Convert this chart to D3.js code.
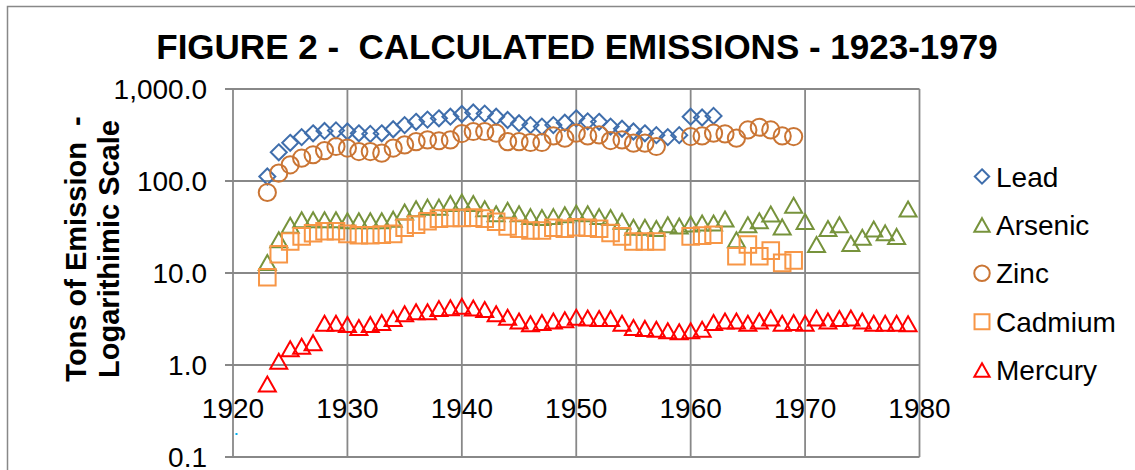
<!DOCTYPE html>
<html>
<head>
<meta charset="utf-8">
<script src="https://cdn.jsdelivr.net/npm/d3@7"></script>
<style>
  body { margin: 0; background: #fff; }
  svg text { font-family: Arial, "Liberation Sans", sans-serif; }
</style>
</head>
<body>
<div id="chart"></div>
<script>
// chart data
let years = [1923,1924,1925,1926,1927,1928,1929,1930,1931,1932,1933,1934,1935,1936,1937,1938,1939,1940,
    1941,1942,1943,1944,1945,1946,1947,1948,1949,1950,1951,1952,1953,1954,1955,1956,1957,1958,1959,
    1960,1961,1962,1963,1964,1965,1966,1967,1968,1969,1970,1971,1972,1973,1974,1975,1976,1977,1978,1979];

let lead = [112,205,260,300,330,350,355,345,330,325,330,365,405,440,465,480,500,535,
    555,540,500,460,425,405,390,405,430,480,445,440,390,370,345,330,315,300,315,
    500,490,510,null,null,null,null,null,null,null,
    null,null,null,null,null,null,null,null,null,null];

let arsenic = [13,23,33,38,38,38,38,37,37,37,37,38.5,46,50,52,52,57,59,
    57,50,44,48,44,41,40,41,43,45,44,41,40,36.5,31.5,31.5,30.5,33.5,32.5,
    34,35,35,38.7,23,33.5,37,43.7,31.7,54.6,
    36.3,20.4,30.5,33.5,20.9,24.4,30,27.3,25,49.5];

let zinc = [75,122,150,177,193,214,237,228,209,209,201,228,247,268,280,274,280,328,
    345,345,331,268,268,262,262,309,292,331,309,317,275,280,258,258,237,null,null,
    304,309,331,325,292,359,384,359,309,304,
    null,null,null,null,null,null,null,null,null,null];

let cadmium = [9,16,22,25,27,28.4,28.4,26.6,25.7,25.7,26.1,26.6,31,33.6,36.5,39,39.6,39.6,
    40,39,36,32,30.3,29,29,31,30.3,31.4,31,30.3,27.2,25,22,22,22,null,null,
    25,25.5,26,null,15.2,20.4,15.2,17.5,12.9,13.7,
    null,null,null,null,null,null,null,null,null,null];

let mercury = [0.62,1.1,1.5,1.6,1.75,2.85,2.85,2.75,2.55,2.75,2.9,3.2,3.6,3.8,3.8,4.1,4.2,4.35,
    4.17,4.0,3.6,3.3,3.0,2.8,2.9,3.0,3.1,3.3,3.25,3.2,3.2,2.85,2.55,2.5,2.45,2.35,2.3,
    2.35,2.45,2.9,3.0,3.0,2.85,3.0,3.25,2.85,2.9,
    2.85,3.25,3.0,3.2,3.25,3.0,2.85,2.85,2.85,2.8];

let seriesNames = ['Lead', 'Arsenic', 'Zinc', 'Cadmium', 'Mercury'];
let seriesValues = [lead, arsenic, zinc, cadmium, mercury];
let xTicks = [1920, 1930, 1940, 1950, 1960, 1970, 1980];
let yTicks = [0.1, 1, 10, 100, 1000];

let colors = ['#3F6EAC', '#77933C', '#CA7534', '#F79646', '#FF0000'],
    shapes = ['diamond', 'triangle', 'circle', 'square', 'triangle'],
    gridColor = '#888888';

let width = 1135, height = 470;
let plotLeft = 233, plotRight = 919.5, plotTop = 89, plotBottom = 457;

let svg = d3.select('#chart').append('svg')
    .attr('width', width)
    .attr('height', height);

// outer chart frame (only top and left show)
svg.append('path')
    .attr('d', 'M7.5,' + height + 'V6.5H' + width)
    .attr('fill', 'none')
    .attr('stroke', gridColor)
    .attr('stroke-width', 1.5);

let x = d3.scaleLinear().domain([1920, 1980]).range([plotLeft, plotRight]);
let y = d3.scaleLog().domain([0.1, 1000]).range([plotBottom, plotTop]);

// gridlines
let grid = svg.append('g').attr('stroke', gridColor).attr('stroke-width', 1.8);
grid.selectAll('.hgrid')
    .data(yTicks)
    .enter().append('line')
    .attr('x1', plotLeft - 8).attr('x2', plotRight)
    .attr('y1', d => y(d)).attr('y2', d => y(d));
grid.selectAll('.vgrid')
    .data(xTicks)
    .enter().append('line')
    .attr('x1', d => x(d)).attr('x2', d => x(d))
    .attr('y1', plotTop).attr('y2', plotBottom);

// y tick labels
let fmt = d3.format(',.1f');
svg.append('g').selectAll('text')
    .data(yTicks)
    .enter().append('text')
    .attr('x', 207)
    .attr('y', d => y(d) + 10)
    .attr('text-anchor', 'end')
    .attr('font-size', 28)
    .attr('fill', '#000')
    .text(d => fmt(d));

// x tick labels sit under the 1.0 line
svg.append('g').selectAll('text')
    .data(xTicks)
    .enter().append('text')
    .attr('x', d => x(d))
    .attr('y', y(1) + 53)
    .attr('text-anchor', 'middle')
    .attr('font-size', 28)
    .attr('fill', '#000')
    .text(d => d);

// stray dot from the original
svg.append('rect')
    .attr('x', 235.5).attr('y', 433)
    .attr('width', 2).attr('height', 2)
    .attr('fill', '#00B0F0');

// title
svg.append('text')
    .attr('x', 577)
    .attr('y', 59)
    .attr('text-anchor', 'middle')
    .attr('font-size', 35)
    .attr('font-weight', 'bold')
    .attr('fill', '#000')
    .attr('xml:space', 'preserve')
    .text('FIGURE 2 -  CALCULATED EMISSIONS - 1923-1979');

// y axis title, two lines
let ytitle = svg.append('g').attr('transform', 'translate(0,249) rotate(-90)');
ytitle.append('text')
    .attr('x', 0).attr('y', 86)
    .attr('text-anchor', 'middle')
    .attr('font-size', 29)
    .attr('font-weight', 'bold')
    .attr('xml:space', 'preserve')
    .text('Tons of Emission  -');
ytitle.append('text')
    .attr('x', 0).attr('y', 119)
    .attr('text-anchor', 'middle')
    .attr('font-size', 29)
    .attr('font-weight', 'bold')
    .text('Logarithimic Scale');

// marker shapes centred on 0,0
function markerPath(shape, s) {
    if (shape == 'diamond') return 'M0,' + (-8 * s) + 'L' + (8 * s) + ',0L0,' + (8 * s) + 'L' + (-8 * s) + ',0Z';
    if (shape == 'triangle') return 'M0,' + (-7.5 * s) + 'L' + (8.5 * s) + ',' + (7.5 * s) + 'L' + (-8.5 * s) + ',' + (7.5 * s) + 'Z';
    if (shape == 'square') return 'M' + (-8.3 * s) + ',' + (-8.3 * s) + 'h' + (16.6 * s) + 'v' + (16.6 * s) + 'h' + (-16.6 * s) + 'Z';
    // circle
    let r = 8.6 * s;
    return 'M' + (-r) + ',0a' + r + ',' + r + ' 0 1,0 ' + (2 * r) + ',0a' + r + ',' + r + ' 0 1,0 ' + (-2 * r) + ',0Z';
}

// series
seriesValues.forEach(function(vals, i) {
    let pts = years.map((yr, j) => ({year: yr, value: vals[j]})).filter(d => d.value != null);
    svg.append('g').attr('class', 'series-' + seriesNames[i])
        .selectAll('path')
        .data(pts)
        .enter().append('path')
        .attr('d', markerPath(shapes[i], 1))
        .attr('transform', d => 'translate(' + x(d.year) + ',' + y(d.value) + ')')
        .attr('fill', 'none')
        .attr('stroke', colors[i])
        .attr('stroke-width', 2);
});

// legend
let legend = svg.append('g').selectAll('g')
    .data(seriesNames)
    .enter().append('g')
    .attr('transform', (d, i) => 'translate(982,' + (176.5 + i * 48.4) + ')');
legend.append('path')
    .attr('d', (d, i) => markerPath(shapes[i], 0.9))
    .attr('fill', 'none')
    .attr('stroke', (d, i) => colors[i])
    .attr('stroke-width', 2);
legend.append('text')
    .attr('x', 14)
    .attr('y', 10)
    .attr('font-size', 28)
    .attr('fill', '#000')
    .text(d => d);
</script>
</body>
</html>
